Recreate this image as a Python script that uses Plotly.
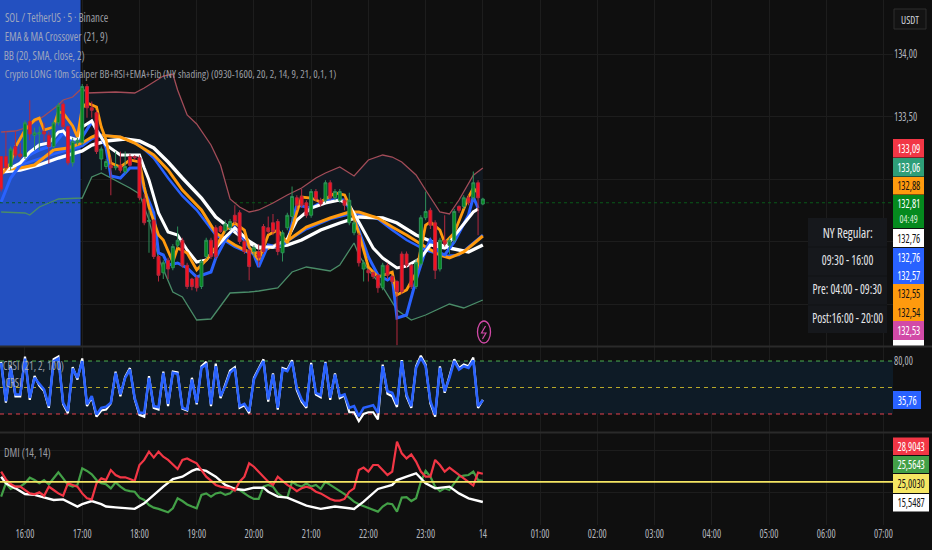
import plotly.graph_objects as go

# ---------- data ----------
bars = list(range(-5, 97))
opens = [133.18,133.18,133.10,133.26,133.20,133.18,133.46,133.35,133.36,133.38,133.35,133.26,133.45,133.60,133.42,133.13,133.29,
         133.29,133.74,133.57,133.53,133.16,133.10,133.11,133.09,133.11,133.06,133.18,133.18,133.17,132.84,132.66,132.67,132.38,
         132.25,132.35,132.29,132.47,132.51,132.31,132.20,132.21,132.14,132.38,132.51,132.61,132.62,132.59,132.61,132.71,132.73,
         132.50,132.43,132.42,132.42,132.62,132.61,132.65,132.66,132.41,132.61,132.70,132.85,132.86,132.81,132.71,132.90,132.83,
         132.83,132.97,132.85,132.83,132.83,132.65,132.57,132.55,132.28,132.27,132.25,132.23,132.13,132.31,132.22,132.18,132.40,
         132.40,132.31,132.14,132.32,132.69,132.75,132.65,132.28,132.51,132.47,132.51,132.78,132.78,132.85,132.85,132.97,132.80]
highs = [133.18,133.38,133.26,133.38,133.29,133.47,133.63,133.41,133.42,133.45,133.38,133.47,133.61,133.62,133.43,133.33,133.33,
         133.76,133.76,133.62,133.55,133.26,133.16,133.18,133.22,133.22,133.22,133.20,133.19,133.19,132.88,132.75,132.68,132.39,
         132.35,132.37,132.48,132.62,132.53,132.33,132.21,132.23,132.36,132.53,132.53,132.63,132.63,132.67,132.68,132.79,132.75,
         132.52,132.44,132.47,132.48,132.64,132.70,132.72,132.68,132.59,132.73,132.94,132.87,132.92,132.83,132.92,132.92,132.85,
         132.99,132.99,132.92,132.92,132.85,132.89,132.67,132.57,132.35,132.28,132.26,132.24,132.33,132.33,132.23,132.19,132.42,
         132.42,132.32,132.36,132.71,132.90,132.77,132.67,132.53,132.71,132.53,132.76,132.79,132.87,132.87,133.06,132.99,132.85]
lows = [132.90,133.07,133.07,133.17,133.16,133.16,133.31,133.23,133.23,133.30,133.12,133.24,133.43,133.40,133.11,133.10,133.27,
        133.27,133.49,133.49,133.20,133.07,133.08,132.87,133.07,133.05,133.04,133.10,133.15,132.83,132.63,132.41,132.36,132.18,
        132.20,132.20,132.27,132.45,132.29,132.12,132.11,132.10,132.12,132.36,132.36,132.36,132.57,132.57,132.59,132.64,132.48,
        132.40,132.19,132.38,132.30,132.40,132.56,132.55,132.39,132.34,132.59,132.66,132.75,132.77,132.69,132.69,132.82,132.78,
        132.81,132.83,132.83,132.81,132.75,132.63,132.55,132.30,132.18,132.18,132.20,132.09,132.11,132.20,132.16,131.67,132.08,
        132.29,132.12,132.12,132.30,132.67,132.60,132.20,132.26,132.46,132.40,132.49,132.73,132.76,132.79,132.83,132.55,132.79]
closes = [132.92,133.09,133.24,133.19,133.18,133.45,133.36,133.37,133.37,133.36,133.26,133.45,133.59,133.42,133.13,133.30,133.31,
          133.74,133.57,133.55,133.22,133.24,133.14,133.09,133.10,133.07,133.10,133.11,133.17,132.85,132.65,132.67,132.38,132.23,
          132.33,132.28,132.46,132.51,132.31,132.14,132.14,132.13,132.34,132.51,132.38,132.38,132.58,132.64,132.66,132.66,132.50,
          132.42,132.30,132.45,132.37,132.42,132.58,132.58,132.42,132.57,132.71,132.86,132.79,132.79,132.71,132.90,132.84,132.80,
          132.97,132.85,132.90,132.90,132.79,132.83,132.65,132.33,132.33,132.25,132.22,132.13,132.31,132.23,132.18,132.10,132.10,
          132.31,132.14,132.33,132.69,132.74,132.63,132.27,132.51,132.48,132.51,132.74,132.75,132.85,132.81,132.97,132.85,132.84]

bb_upper_x = [-5,-2,0,2,4,7,8,10,12,13,19,23,25,27,29,31,32,34,36,39,41,43,45,47,49,52,55,58,61,63,66,69,72,75,77,79,82,84,87,89,91,94,96]
bb_upper = [133.376,133.384,133.408,133.456,133.504,133.592,133.632,133.656,133.728,133.688,133.696,133.688,133.728,133.776,133.824,133.84,
            133.712,133.512,133.44,133.272,133.112,132.84,132.776,132.736,132.752,132.808,132.872,132.928,133.008,133.048,133.096,133.024,
            133.152,133.192,133.176,133.136,133.032,132.912,132.736,132.72,132.832,133.03,133.088]
bb_lower_x = [-5,0,1,3,5,7,12,14,16,18,20,22,24,26,28,31,33,36,39,43,47,49,53,56,59,64,66,69,70,72,75,78,81,84,89,92,96]
bb_lower = [132.736,132.728,132.712,132.776,132.808,132.84,132.848,133.016,133.048,133.008,132.968,132.928,132.88,132.672,132.368,132.096,
            132.056,131.872,131.88,132.088,132.096,132.104,132.128,132.256,132.296,132.264,132.312,132.488,132.392,132.272,132.136,131.952,
            131.872,131.912,132.0,131.968,132.032]

white_slow_x = [-5,-1,3,7,12,14,17,21,24,27,30,33,37,40,44,47,49,52,55,58,62,66,70,75,78,82,86,89,93,96]
white_slow = [133.056,133.072,133.112,133.168,133.224,133.272,133.304,133.32,133.304,133.248,133.136,133.008,132.848,132.696,132.576,132.488,
              132.448,132.456,132.472,132.512,132.592,132.648,132.696,132.688,132.648,132.552,132.488,132.448,132.416,132.472]
orange_slow_x = [-5,-1,2,6,9,12,14,15,20,23,27,30,33,37,40,44,47,49,52,55,59,64,68,70,74,77,80,84,87,89,92,96]
orange_slow = [133.072,133.088,133.112,133.232,133.248,133.288,133.336,133.352,133.336,133.288,133.192,133.072,132.912,132.752,132.568,132.472,
               132.416,132.408,132.464,132.504,132.616,132.688,132.736,132.736,132.688,132.616,132.552,132.456,132.392,132.368,132.416,132.544]
blue_slow_x = [-5,6,12,14,16,20,24,27,30,33,36,40,44,47,49,52,55,59,64,69,74,77,80,84,88,91,94,96]
blue_slow = [133.06,133.2,133.264,133.32,133.352,133.336,133.272,133.168,133.008,132.864,132.752,132.552,132.456,132.408,132.408,132.464,132.504,
             132.6,132.68,132.728,132.68,132.592,132.512,132.432,132.384,132.392,132.488,132.552]
white_fast_x = [-5,-3,-1,1,3,5,7,8,9,11,12,14,15,17,20,24,25,26,28,30,32,34,36,38,40,42,44,47,49,52,55,57,60,63,66,68,70,73,75,78,80,83,85,88,90,92,94,95]
white_fast = [133.056,133.088,133.128,133.216,133.272,133.288,133.376,133.384,133.336,133.312,133.416,133.464,133.392,133.272,133.192,133.192,133.088,
              132.992,132.728,132.576,132.552,132.432,132.336,132.352,132.448,132.536,132.608,132.504,132.456,132.456,132.52,132.672,132.768,132.808,
              132.832,132.792,132.656,132.448,132.368,132.288,132.304,132.368,132.472,132.448,132.544,132.64,132.736,132.76]
orange_fast_x = [-5,-3,-2,0,2,3,4,6,7,8,10,11,12,13,15,16,17,18,20,22,24,25,26,28,29,31,32,34,36,38,40,42,44,46,47,49,51,53,55,58,60,62,65,67,68,70,72,74,77,78,80,82,84,85,87,88,90,93,94,95]
orange_fast = [133.032,133.128,133.256,133.392,133.472,133.488,133.392,133.416,133.536,133.528,133.424,133.336,133.568,133.608,133.576,133.416,133.312,
               133.128,133.096,133.152,133.136,132.936,132.776,132.552,132.512,132.336,132.448,132.408,132.272,132.352,132.456,132.592,132.648,132.592,
               132.456,132.352,132.552,132.592,132.488,132.856,132.848,132.816,132.888,132.872,132.792,132.568,132.296,132.216,132.256,132.072,132.112,
               132.248,132.632,132.656,132.592,132.488,132.568,132.856,132.928,132.888]
blue_fast_x = [-5,-3,-1,1,3,5,6,8,9,10,12,14,16,17,18,20,22,24,25,27,28,29,30,32,34,36,39,40,42,44,46,48,49,51,53,55,57,60,63,67,69,72,74,76,77,78,80,82,84,85,87,88,90,93,94,95]
blue_fast = [132.816,133.008,133.112,133.192,133.232,133.256,133.272,133.368,133.328,133.296,133.336,133.456,133.336,133.248,133.024,133.008,133.088,
             133.088,132.912,132.728,132.408,132.392,132.312,132.328,132.288,132.216,132.256,132.368,132.512,132.616,132.512,132.392,132.296,132.472,
             132.456,132.496,132.792,132.768,132.832,132.832,132.696,132.376,132.232,132.192,132.216,131.888,131.912,132.192,132.432,132.512,132.408,
             132.392,132.496,132.712,132.856,132.768]

crsi_blue = [77.9,34.5,72.3,42.1,42.1,82.8,38.3,60.9,54.2,47.7,28.9,79.8,82.8,32.6,23.2,71.5,60.9,79.8,30.8,40.2,19.4,27,28.1,32.6,66.6,42.1,60.9,
             70.4,38.3,21.3,21.3,60.9,28.9,27.7,66.6,31.5,66.6,65.5,27,25.1,59.1,32.6,72.3,76,30.8,74.2,40.2,51.5,66.6,71.5,28.9,31.5,23.2,
             59.1,70.4,79.8,36.4,64.7,27,70.4,68.5,79.1,49.6,36.4,28.9,76,44,41.3,77.9,38.3,64.7,40.2,42.1,27,28.9,17.5,27,28.9,30,21.3,74.2,
             45.8,44,30.8,79.8,42.1,28.9,72.3,83.6,74.2,34.5,19.4,72.3,45.8,60.9,79.8,70.4,74.2,72.3,80.6,28.9,35.76]
crsi_white = [79,33,74,40,40,85,36,63,52,46,27,82,85,31,21,73,59,83,29,39,17,24,25,32,68,40,62,72,37,19,17,63,27,25,68,29,68,67,26,24,61,31,74,79,
              29,77,38,53,69,73,27,30,21,
              61,72,82,34,66,25,72,70,81,47,34,27,78,42,39,79,36,66,38,41,22,22,12,20,22,22,14,76,43,40,28,81,40,27,74,86,76,32,17,74,44,63,82,72,76,74,84,27,36]

dmi_red = [29.9,26.2,24,22.8,22.8,21.2,19.6,19.2,20.1,18.5,22.8,21.2,19.6,18.5,24.4,23.6,22.8,19.6,17.3,16.8,24.4,26.7,25.9,30.6,28.3,27.2,27.2,26.4,
           25.5,33,35.4,39.3,36.5,39.3,36.9,35.4,33,31.1,35.4,36.1,34.9,33.8,30.6,27.5,25.6,23.6,22.8,22.5,22,20.9,25.1,27.5,33.8,
           32.2,29.9,27.5,25.1,23.6,27.5,25.5,23.6,22.3,20.7,22,22.8,22,20.4,19.6,18.1,17,16.2,16.2,17,20.4,22,30.6,31.8,29.9,33,33,30.6,28.3,29.9,
           44,38.5,36.1,38,34.6,29.9,27.5,27.5,35.4,33,29.9,31.8,29.9,28.3,26.7,25.1,23.3,29.4,28.9]
dmi_green = [18.1,24.4,21.7,22.8,22.8,24.4,27,25.9,24.4,25.9,23.9,26.7,29.6,26.7,23.6,22.8,23.6,31.4,30.2,28.6,25.9,24.4,23.9,22,24.8,22.8,21.2,20.7,
             20.4,17.6,16.5,14.1,12.9,12.3,11.5,10.7,12.6,17.3,16,14.4,13.4,12.6,18.9,19.6,18.1,19.6,20.1,18.9,19.6,22,21.2,19.6,18.1,
             17,17,22.8,23.6,22.8,19.6,18.1,17.6,25.1,23.6,22.8,24.4,22.8,23.6,21.7,25.1,23.6,22.3,20.7,19.3,17.6,15.7,14.5,13.7,12.9,12.1,11,13.4,
             14.9,14.5,11,17.6,17.8,16,17.3,25.1,30.2,27.5,22.8,20.7,22,21.2,24.4,27.5,28,28.3,29.9,25.9,25.56]
dmi_white_x = [-5,-4,-2,0,2,4,6,8,9,11,12,14,16,17,19,21,23,25,27,29,31,33,35,36,38,40,42,44,46,47,48,50,51,53,55,57,59,62,65,68,69,71,74,77,78,80,82,84,86,89,91,93,96]
dmi_white = [27.5,24.4,22,19.3,18.9,17.8,16.5,16.8,15.7,13.4,14.5,16,14.5,13.4,13,12.6,12.3,14.9,18.9,22.8,26.4,27.5,30.2,31.1,30.2,27.5,23.6,21.7,21.2,
             21.7,22.3,22.3,20.4,18.1,17.6,15.7,13.8,12.3,13.4,12.6,12.3,15.7,21.7,23.6,25.9,27.5,29.1,24.4,22,22.8,19.6,17.3,15.55]

x_tick_bars = [0,12,24,36,48,60,72,84,96,108,120,132,144,156,168,180]
x_tick_labels = ["16:00","17:00","18:00","19:00","20:00","21:00","22:00","23:00","14","01:00","02:00","03:00","04:00","05:00","06:00","07:00"]
price_ticks = [134.0,133.5,133.0,132.5,132.0]
price_tick_labels = ["134,00","133,50","","",""]
price_last = 132.81
crsi_ticks = [80,40,0]
crsi_tick_labels = ["80,00","",""]
legend_lines = ["SOL / TetherUS · 5 · Binance","EMA & MA Crossover (21, 9)","BB (20, SMA, close, 2)",
                "Crypto LONG 10m Scalper BB+RSI+EMA+Fib (NY shading) (0930-1600, 20, 2, 14, 9, 21, 0,1, 1)"]
session_rows = ["NY Regular:","09:30 - 16:00","Pre: 04:00 - 09:30","Post:16:00 - 20:00"]
price_labels = [("133,09","#f23645","#ffffff"),("133,06","#2e9e78","#ffffff"),("132,88","#ff9a0e","#131313"),
                ("132,76","#ffffff","#131313"),("132,76","#2962ff","#ffffff"),("132,57","#2962ff","#ffffff"),
                ("132,55","#ff9a0e","#131313"),("132,54","#ff9a0e","#131313"),("132,53","#d24aa7","#ffffff")]

# ---------- geometry & style ----------
W, H = 932, 550
PLOT_R = 893
BG = "#0f0f0f"
GRID = "#1d1d1d"
FONT = "Open Sans"
TXT = "#b2b5be"
xrange_bars = [-5.24, 182.0]

def px(x): return x / W
def py(y): return 1 - y / H
def dom(top, bottom): return [py(bottom), py(top)]

shapes, annotations = [], []

def rect(x0, y0, x1, y1, color, layer="above", line=None):
    shapes.append(dict(type="rect", xref="paper", yref="paper", x0=px(x0), x1=px(x1), y0=py(y0), y1=py(y1),
                       fillcolor=color, line=dict(width=0 if line is None else 1, color=line or color), layer=layer))

def label(x, y, text, color=TXT, size=11.5, opacity=1.0):
    annotations.append(dict(xref="paper", yref="paper", x=px(x), y=py(y), text=text, showarrow=False, xanchor="center",
                            yanchor="middle", font=dict(family=FONT, size=size, color=color), opacity=opacity,
                            borderpad=0, borderwidth=0))

def hline(yref, val, color, dash, width=1, layer="between"):
    shapes.append(dict(type="line", xref="x", yref=yref, x0=xrange_bars[0], x1=xrange_bars[1], y0=val, y1=val,
                       line=dict(color=color, width=width, dash=dash), layer=layer))

shapes.append(dict(type="rect", xref="x", yref="y", x0=xrange_bars[0], x1=11.65, y0=131.664, y1=134.432,
                   fillcolor="#2350c0", line=dict(width=0), layer="between"))
hline("y", price_last, "#0a5a1a", "dot")
shapes.append(dict(type="rect", xref="x", yref="y2", x0=xrange_bars[0], x1=xrange_bars[1], y0=20, y1=80,
                   fillcolor="#0e1b26", line=dict(width=0), layer="between"))
hline("y2", 80, "#4caf50", "4px,4px")
hline("y2", 50, "#b8a82a", "4px,4px")
hline("y2", 20, "#e5404f", "4px,4px")
rect(0, 345.5, W, 347.5, "#2a2a2a")
rect(0, 431.5, W, 433.5, "#2a2a2a")

fig = go.Figure()

def line(xs, ys, color, width, yaxis="y"):
    fig.add_trace(go.Scatter(x=xs, y=ys, mode="lines", yaxis=yaxis, xaxis="x",
                             line=dict(color=color, width=width), hoverinfo="skip", showlegend=False))

up = [(x, v) for x, v in zip(bb_upper_x, bb_upper) if x >= 12]
lo = [(x, v) for x, v in zip(bb_lower_x, bb_lower) if x >= 12]
fig.add_trace(go.Scatter(x=[p[0] for p in up] + [p[0] for p in lo][::-1], y=[p[1] for p in up] + [p[1] for p in lo][::-1],
                         mode="none", fill="toself", fillcolor="#111820", hoverinfo="skip", showlegend=False, yaxis="y"))
line(bb_upper_x, bb_upper, "#a24c58", 1.3)
line(bb_lower_x, bb_lower, "#4a8c68", 1.3)
line(blue_slow_x, blue_slow, "#2962ff", 2.5)
line(white_slow_x, white_slow, "#ffffff", 3.4)
line(orange_slow_x, orange_slow, "#ff9a0e", 3)
line(blue_fast_x, blue_fast, "#2962ff", 3)
line(white_fast_x, white_fast, "#ffffff", 3)
line(orange_fast_x, orange_fast, "#ff9a0e", 2.8)

fig.add_trace(go.Candlestick(x=bars, open=opens, high=highs, low=lows, close=closes, xaxis="x", yaxis="y4",
                             whiskerwidth=0, hoverinfo="skip", showlegend=False,
                             increasing=dict(line=dict(color="#2f8f5a", width=1), fillcolor="#058a1e"),
                             decreasing=dict(line=dict(color="#b32a3f", width=1), fillcolor="#f8101f")))

line(bars, crsi_white, "#ffffff", 2.2, "y2")
line(bars, crsi_blue, "#2962ff", 2.6, "y2")

hline("y3", 25, "#f5e663", "solid", 1.8, "above")
line(bars, dmi_green, "#43a047", 2.2, "y3")
line(dmi_white_x, dmi_white, "#ffffff", 2.4, "y3")
line(bars, dmi_red, "#f23645", 2.2, "y3")

rect(PLOT_R, 525, W, H, BG)

# text centres follow the extents of each text in the reference
label(56, 18, legend_lines[0], TXT, 12, 0.85)
label(56, 36.5, legend_lines[1], TXT, 12, 0.85)
label(44, 55.5, legend_lines[2], TXT, 12, 0.85)
label(170, 74, legend_lines[3], TXT, 11.6, 0.85)
label(33.5, 365, "CRSI (21, 2, 100)", TXT, 12, 0.85)
label(13, 382, "CRSI", TXT, 12, 0.85)
label(27.5, 452, "DMI (14, 14)", TXT, 12, 0.85)

rect(894, 9, 926, 29, "#131313", line="#2e2e2e")
label(910, 19, "USDT", "#d1d4dc", 11)

stack_tops = [139, 158, 177, 229, 248, 266, 284, 303, 321]
stack_bottoms = [157.5, 176.5, 194.5, 247, 266, 284, 303, 321, 340]
for (txt, bg, fg), t0, t1 in zip(price_labels, stack_tops, stack_bottoms):
    rect(PLOT_R, t0, 924, t1, bg)
    label(908.5, (t0 + t1) / 2, txt, fg, 12)
rect(PLOT_R, 195, 924, 228, "#058a1e")
label(908.5, 203.5, "132,81", "#ffffff", 12)
label(908.5, 218.5, "04:49", "#d8efd8", 11.5)
rect(PLOT_R, 340, 924, 345.5, "#ffffff")

rect(PLOT_R, 391, 921, 409, "#2962ff")
label(907, 400, "35,76", "#ffffff", 12)

dmi_stack = [("28,9043", "#f23645", "#ffffff"), ("25,5643", "#43a047", "#ffffff"),
             ("25,0030", "#f5e663", "#131313"), ("15,5487", "#ffffff", "#131313")]
dmi_tops = [437, 455.5, 473.5, 493.5]
dmi_bottoms = [455, 473, 493, 511.5]
for (txt, bg, fg), t0, t1 in zip(dmi_stack, dmi_tops, dmi_bottoms):
    rect(PLOT_R, t0 + 0.5, 929, t1, bg)
    label(911, (t0 + t1) / 2, txt, fg, 12)

rect(808, 218, 887, 333, "#16181c")
for y in (247, 276, 305):
    rect(808, y - 0.5, 887, y + 0.5, "#111214")
for y, t in zip((232, 260, 288, 317), session_rows):
    label(847.5, y, t, "#e6e7ea", 14)

shapes.append(dict(type="circle", xref="paper", yref="paper", x0=px(477.5), x1=px(490.5), y0=py(343), y1=py(321),
                   line=dict(color="#d24aa7", width=1.3), fillcolor="rgba(0,0,0,0)", layer="above"))
shapes.append(dict(type="path", xref="paper", yref="paper", line=dict(color="#d24aa7", width=1.2),
                   path=f"M {px(485.5)} {py(326)} L {px(481.5)} {py(333)} L {px(486)} {py(333)} L {px(482.5)} {py(339)}", layer="above"))

tick_font = dict(family=FONT, size=12, color=TXT)
fig.update_layout(
    width=W, height=H, autosize=False, margin=dict(l=0, r=0, t=0, b=0, pad=0),
    paper_bgcolor=BG, plot_bgcolor=BG, showlegend=False, boxgap=0.12,
    shapes=shapes, annotations=annotations, hovermode=False,
    font=dict(family=FONT, color=TXT, size=12),
    xaxis=dict(domain=[0, px(PLOT_R)], range=xrange_bars, anchor="y3", tickvals=x_tick_bars, ticktext=x_tick_labels,
               showgrid=True, gridcolor=GRID, gridwidth=1, zeroline=False, showline=False, ticks="",
               tickfont=tick_font, rangeslider=dict(visible=False), automargin=False),
    yaxis=dict(domain=dom(0, 346), range=[131.664, 134.432], side="right", anchor="x", tickvals=price_ticks, ticktext=price_tick_labels,
               showgrid=True, gridcolor=GRID, zeroline=False, showline=False, ticks="", automargin=False, tickfont=tick_font),
    yaxis2=dict(domain=dom(347, 432), range=[-0.4, 95.9], side="right", anchor="x", tickvals=crsi_ticks, ticktext=crsi_tick_labels,
                showgrid=True, gridcolor=GRID, zeroline=False, showline=False, ticks="", automargin=False, tickfont=tick_font),
    yaxis3=dict(domain=dom(433, 525), range=[4.7, 48.1], side="right", anchor="x", tickvals=[40, 20], ticktext=["", ""],
                showgrid=True, gridcolor=GRID, zeroline=False, showline=False, ticks="", automargin=False),
    yaxis4=dict(domain=dom(0, 346), range=[131.664, 134.432], overlaying="y", side="right", anchor="x", visible=False),
)

# Open Sans carries a width axis: all text is set condensed, then numbers narrowed further to the reference's proportions.
squeeze_js = """
document.body.style.margin='0';document.body.style.background='#0f0f0f';document.documentElement.style.overflow='hidden';
document.querySelectorAll('svg text').forEach(function(t){
  t.style.fontStretch='condensed';
  var s=t.textContent||''; if(!s) return;
  var n=t.getComputedTextLength(); var f=/^[0-9]/.test(s)?0.82:(/^(Pre|Post)/.test(s)?0.82:0.9);
  t.setAttribute('textLength',(n*f).toFixed(1)); t.setAttribute('lengthAdjust','spacingAndGlyphs');
});
"""
fig.write_html("out.html", config=dict(displayModeBar=False), post_script=squeeze_js)
